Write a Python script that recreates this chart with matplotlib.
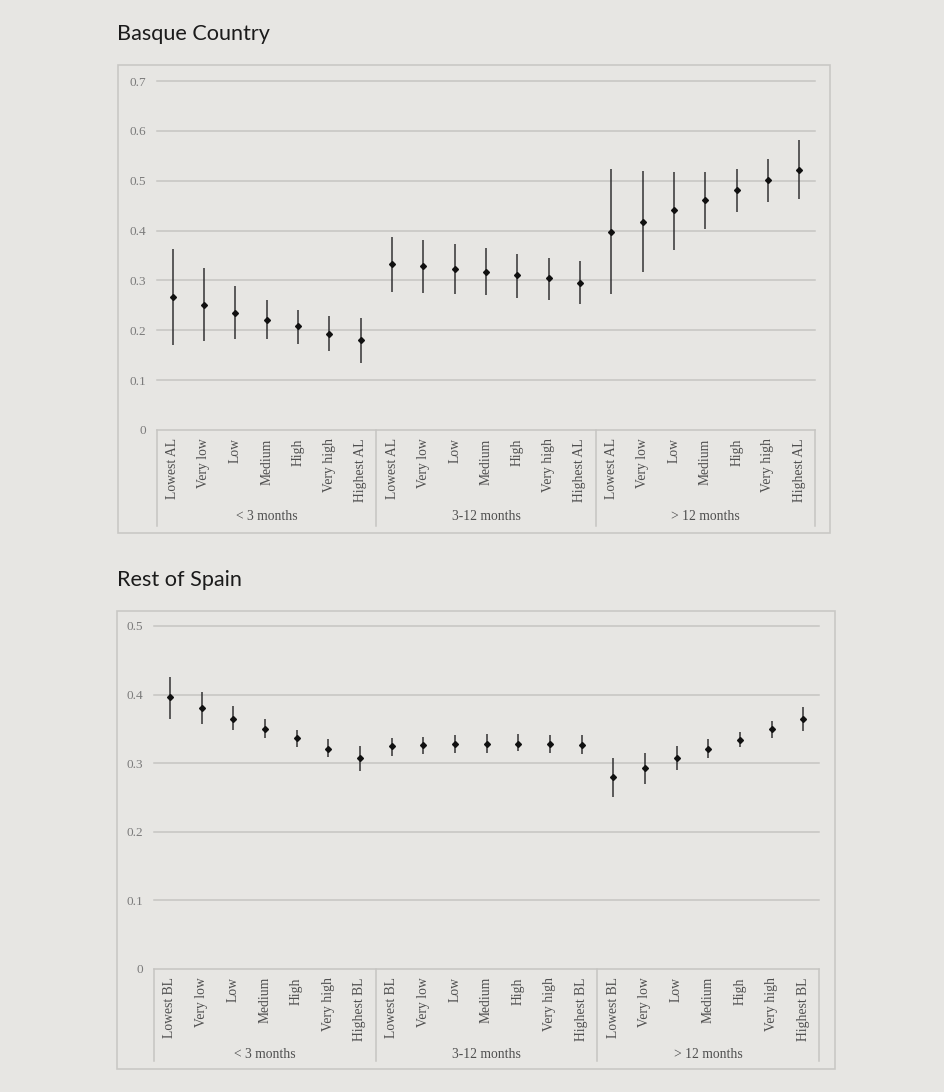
import matplotlib
matplotlib.use("Agg")
import matplotlib.pyplot as plt
from matplotlib.patches import Rectangle
import numpy as np

# ---- data -------------------------------------------------------------
groups = ["< 3 months", "3-12 months", "> 12 months"]
levels_basque = ["Lowest AL", "Very low", "Low", "Medium", "High", "Very high", "Highest AL"]
levels_spain = ["Lowest BL", "Very low", "Low", "Medium", "High", "Very high", "Highest BL"]

basque_mean = [0.267, 0.250, 0.235, 0.221, 0.208, 0.192, 0.181,
               0.333, 0.329, 0.322, 0.317, 0.311, 0.305, 0.295,
               0.398, 0.418, 0.441, 0.461, 0.481, 0.501, 0.521]
basque_low = [0.171, 0.179, 0.183, 0.183, 0.173, 0.158, 0.135,
              0.277, 0.275, 0.273, 0.270, 0.265, 0.261, 0.252,
              0.273, 0.317, 0.361, 0.404, 0.438, 0.458, 0.463]
basque_high = [0.364, 0.325, 0.289, 0.260, 0.240, 0.229, 0.224,
               0.388, 0.381, 0.373, 0.365, 0.354, 0.345, 0.338,
               0.523, 0.519, 0.517, 0.517, 0.523, 0.543, 0.581]

spain_mean = [0.396, 0.381, 0.365, 0.350, 0.336, 0.321, 0.307,
              0.325, 0.327, 0.328, 0.328, 0.328, 0.328, 0.327,
              0.280, 0.293, 0.308, 0.320, 0.334, 0.349, 0.365]
spain_low = [0.365, 0.357, 0.348, 0.337, 0.324, 0.309, 0.289,
             0.311, 0.313, 0.314, 0.314, 0.317, 0.314, 0.313,
             0.251, 0.270, 0.290, 0.307, 0.324, 0.337, 0.347]
spain_high = [0.426, 0.404, 0.383, 0.364, 0.348, 0.335, 0.325,
              0.336, 0.338, 0.341, 0.343, 0.343, 0.341, 0.341,
              0.307, 0.315, 0.325, 0.335, 0.346, 0.362, 0.382]

basque_ticks = [0, 0.1, 0.2, 0.3, 0.4, 0.5, 0.6, 0.7]
spain_ticks = [0, 0.1, 0.2, 0.3, 0.4, 0.5]

# ---- styling ----------------------------------------------------------
W, H = 944, 1092
BG = "#e7e6e3"
FRAME = "#c9c8c5"
GRID = "#c6c5c2"
SERIF = ["Liberation Serif", "DejaVu Serif"]
TITLE_FONT = ["Lato", "DejaVu Sans"]

fig = plt.figure(figsize=(W / 100, H / 100), dpi=100, facecolor=BG)


def px_rect(x0, y0, x1, y1):
    """Convert a pixel box (top-left origin) into figure fractions."""
    return [x0 / W, 1 - y1 / H, (x1 - x0) / W, (y1 - y0) / H]


def panel(title, title_xy, frame_box, axes_box, ymax, ticks, means, lows, highs,
          levels, sep_depth, group_y):
    # outer frame around the whole chart
    fx0, fy0, fx1, fy1 = frame_box
    fig.patches.append(Rectangle((fx0 / W, 1 - fy1 / H), (fx1 - fx0) / W, (fy1 - fy0) / H,
                                 transform=fig.transFigure, fill=False,
                                 edgecolor=FRAME, linewidth=1.2))
    fig.text(title_xy[0] / W, 1 - title_xy[1] / H, title, family=TITLE_FONT,
             fontsize=15.6, color="#1b1b1b", ha="left", va="baseline")

    ax = fig.add_axes(px_rect(*axes_box))
    ax.set_facecolor("none")
    n = len(means)
    x = np.arange(n) + 0.5
    ax.set_xlim(0, n)
    ax.set_ylim(0, ymax)

    for sp in ["top", "right", "left"]:
        ax.spines[sp].set_visible(False)
    ax.spines["bottom"].set_color(GRID)
    ax.spines["bottom"].set_linewidth(1.1)

    for t in ticks[1:]:
        ax.axhline(t, color=GRID, linewidth=1.1, zorder=0, clip_on=False)

    ax.set_yticks(ticks)
    ax.set_yticklabels([("0" if t == 0 else f"{t:.1f}") for t in ticks],
                       family=SERIF, fontsize=9.5, color="#7b7b7b")
    ax.tick_params(axis="y", length=0, pad=8)

    labels = levels * len(groups)
    ax.set_xticks(x)
    ax.set_xticklabels(labels, rotation=90, family=SERIF, fontsize=9.8, color="#4f4f4f")
    ax.tick_params(axis="x", length=0, pad=6)

    means = np.array(means)
    yerr = np.vstack([means - np.array(lows), np.array(highs) - means])
    ax.errorbar(x, means, yerr=yerr, fmt="D", ms=3.0, color="#111111",
                ecolor="#333333", elinewidth=1.1, capsize=0, zorder=3)

    # category box: vertical separators below the axis
    k = len(levels)
    tr = ax.get_xaxis_transform()
    for b in range(len(groups) + 1):
        ax.plot([b * k, b * k], [0, -sep_depth], transform=tr, color=GRID,
                linewidth=1.1, clip_on=False)
    for g, name in enumerate(groups):
        ax.text(g * k + k / 2, group_y, name, transform=tr, family=SERIF,
                fontsize=9.8, color="#4f4f4f", ha="center", va="center")
    return ax


panel("Basque Country", (117, 39.5), (118, 65, 830, 533), (157, 81, 815, 430),
      0.7, basque_ticks, basque_mean, basque_low, basque_high, levels_basque,
      sep_depth=96 / 349, group_y=-87 / 349)

panel("Rest of Spain", (117, 585.7), (117, 611, 835, 1069), (154, 626, 819, 968.7),
      0.5, spain_ticks, spain_mean, spain_low, spain_high, levels_spain,
      sep_depth=92.3 / 342.7, group_y=-86.3 / 342.7)

fig.savefig("out.png", dpi=100, facecolor=BG)
